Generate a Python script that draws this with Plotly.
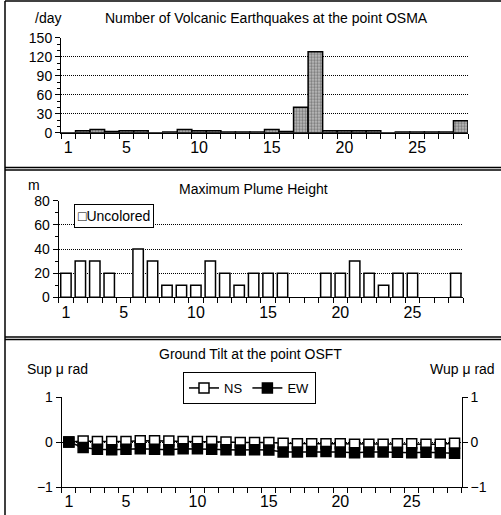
import plotly.graph_objects as go

W, H = 501, 515

days = list(range(1, 29))
quakes = [0, 3, 5, 2, 3, 3, 0, 1, 5, 3, 3, 1, 1, 1, 5, 2, 40, 128, 3, 3, 3, 3, 0, 1, 1, 1, 1, 19]
plume = [20, 30, 30, 20, None, 40, 30, 10, 10, 10, 30, 20, 10, 20, 20, 20, None, None,
         20, 20, 30, 20, 10, 20, 20, None, None, 20]
tilt_ns = [0, 0.02, 0.01, 0.01, 0.01, 0.03, 0.03, 0.02, 0.01, 0.01, 0.01, 0.0, -0.01, -0.01,
           -0.01, -0.03, -0.04, -0.04, -0.04, -0.04, -0.05, -0.05, -0.05, -0.04, -0.04, -0.05,
           -0.05, -0.03]
tilt_ew = [0, -0.12, -0.16, -0.17, -0.16, -0.15, -0.16, -0.17, -0.15, -0.15, -0.16, -0.17,
           -0.18, -0.17, -0.18, -0.22, -0.22, -0.21, -0.21, -0.22, -0.24, -0.22, -0.22, -0.23,
           -0.24, -0.23, -0.24, -0.25]
x_tickvals = [1, 5, 10, 15, 20, 25]
quake_ticks = [0, 30, 60, 90, 120, 150]
plume_ticks = [0, 20, 40, 60, 80]
tilt_ticks = [-1, 0, 1]
tilt_labels = ["\u22121", "0", "1"]

FONT = "Liberation Sans, Arial, sans-serif"
XFONT = dict(family="Liberation Sans Narrow, Arial Narrow, Liberation Sans, Arial", size=16, color="black")
DOT = "1px,1px"


def px(x):
    return x / W


def py(y):
    return 1 - y / H


fig = go.Figure()

fig.add_trace(go.Bar(
    x=days, y=quakes, width=1, xaxis="x", yaxis="y", showlegend=False, name="Earthquakes",
    marker=dict(color="#a0a0a0", line=dict(color="black", width=1.5),
                pattern=dict(shape=".", size=3, solidity=0.5, fgcolor="#303030", bgcolor="#c4c4c4")),
))

fig.add_trace(go.Bar(
    x=days, y=plume, width=0.72, xaxis="x2", yaxis="y2", name="Uncolored", showlegend=False,
    marker=dict(color="white", line=dict(color="black", width=1.5)),
))

fig.add_trace(go.Scatter(
    x=days, y=tilt_ns, xaxis="x3", yaxis="y3", name="NS", legend="legend",
    mode="lines+markers", line=dict(color="black", width=1.5),
    marker=dict(symbol="square", size=10, color="white", line=dict(color="black", width=1.5)),
))
fig.add_trace(go.Scatter(
    x=days, y=tilt_ew, xaxis="x3", yaxis="y3", name="EW", legend="legend",
    mode="lines+markers", line=dict(color="black", width=1.5),
    marker=dict(symbol="square", size=10, color="black", line=dict(color="black", width=1.5)),
))
# right axis anchor trace (invisible)
fig.add_trace(go.Scatter(x=[1], y=[0], xaxis="x3", yaxis="y4", showlegend=False,
                         mode="markers", marker=dict(opacity=0), hoverinfo="skip"))


def xaxis(domain, anchor):
    return dict(
        domain=domain, anchor=anchor, range=[0.5, 28.5], tickmode="array", tickvals=x_tickvals,
        ticks="", showline=True, linecolor="black", ticklabelstandoff=0,
        linewidth=1, showgrid=False, zeroline=False, tickfont=XFONT, automargin=False,
        minor=dict(tickmode="linear", tick0=0.5, dtick=1, ticks="outside", ticklen=5,
                   tickcolor="black", tickwidth=1, showgrid=False),
    )


def yaxis(domain, anchor, rng, tickvals, minor_dtick):
    d = dict(
        domain=domain, anchor=anchor, range=rng, tickmode="array", tickvals=tickvals,
        ticks="outside", ticklen=5, tickcolor="black", showline=True, linecolor="black",
        linewidth=1, showgrid=True, gridcolor="black", griddash=DOT, gridwidth=1,
        zeroline=False, tickfont=dict(family=FONT, size=14, color="black"), automargin=False,
    )
    if minor_dtick:
        d["minor"] = dict(tickmode="linear", tick0=0, dtick=minor_dtick, ticks="outside",
                          ticklen=3, tickcolor="black", showgrid=False)
    return d


shapes = []
line = dict(color="black", width=1.5)
# panel borders
shapes.append(dict(type="line", xref="paper", yref="paper", x0=px(5), x1=1, y0=py(1), y1=py(1), line=line))
shapes.append(dict(type="line", xref="paper", yref="paper", x0=px(5), x1=1, y0=py(167.5), y1=py(167.5), line=line))
shapes.append(dict(type="line", xref="paper", yref="paper", x0=px(5), x1=1, y0=py(170), y1=py(170), line=line))
shapes.append(dict(type="line", xref="paper", yref="paper", x0=px(5), x1=1, y0=py(337), y1=py(337), line=line))
shapes.append(dict(type="line", xref="paper", yref="paper", x0=px(5), x1=1, y0=py(339.5), y1=py(339.5), line=line))
shapes.append(dict(type="line", xref="paper", yref="paper", x0=px(5), x1=px(5), y0=0, y1=py(1), line=line))

ann_font = dict(family=FONT, size=14, color="black")


def ann(text, x, y, **kw):
    d = dict(text=text, x=px(x), y=py(y), xref="paper", yref="paper", showarrow=False,
             xanchor="center", yanchor="middle", font=ann_font)
    d.update(kw)
    return d


annotations = [
    ann("/day", 48, 18),
    ann("Number of Volcanic Earthquakes at the point OSMA", 266, 18),
    ann("m", 34, 185),
    ann("Maximum Plume Height", 254, 189),
    ann("<b>\u25a1</b>Uncolored", 113.5, 215.5, bordercolor="black", borderwidth=1, borderpad=3,
        bgcolor="white", font=dict(family=FONT, size=14, color="black")),
    ann("Ground Tilt at the point OSFT", 250, 354),
    ann("Sup \u03bc rad", 57, 369),
    ann("Wup \u03bc rad", 462, 369),
]

y4 = yaxis([py(487), py(397)], "x3", [-1, 1], tilt_ticks, None)
y4.update(overlaying="y3", side="right", showgrid=False, ticktext=tilt_labels)
y3 = yaxis([py(487), py(397)], "x3", [-1, 1], tilt_ticks, None)
y3.update(ticktext=tilt_labels)

fig.update_layout(
    width=W, height=H, margin=dict(l=0, r=0, t=0, b=0, pad=0, autoexpand=False),
    paper_bgcolor="white", plot_bgcolor="white",
    font=dict(family=FONT, size=13, color="black"),
    xaxis=xaxis([px(61), px(468)], "y"),
    yaxis=yaxis([py(132.7), py(37.7)], "x", [0, 150], quake_ticks, 10),
    xaxis2=xaxis([px(58.7), px(463)], "y2"),
    yaxis2=yaxis([py(297.3), py(200.7)], "x2", [0, 80], plume_ticks, 10),
    xaxis3=xaxis([px(61.7), px(461.7)], "y3"),
    yaxis3=y3,
    yaxis4=y4,
    legend=dict(x=px(183), y=py(372), xanchor="left", yanchor="top", orientation="h",
                bordercolor="black", borderwidth=1, bgcolor="white",
                font=dict(family=FONT, size=13, color="black")),
    shapes=shapes,
    annotations=annotations,
    showlegend=True,
)

css_fix = (
    "var s=document.createElement('style');"
    "s.innerHTML='html,body{margin:0!important;padding:0!important;overflow:hidden!important;"
    "width:501px;height:515px;}';"
    "document.head.appendChild(s);"
)
fig.write_html("out.html", config={"displayModeBar": False}, post_script=css_fix)
